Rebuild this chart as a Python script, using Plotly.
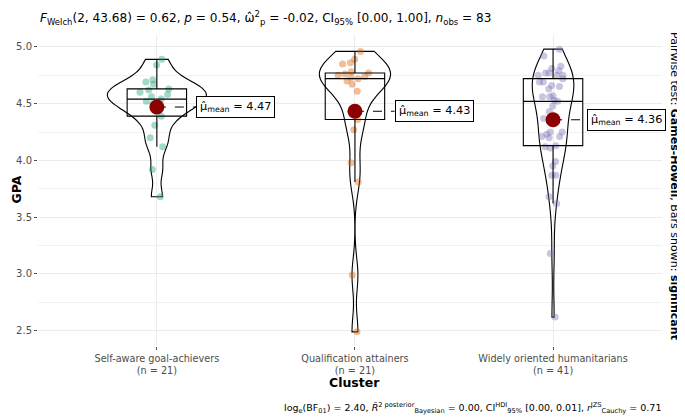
import numpy as np
import plotly.graph_objects as go

# ---- data ----
categories = ["Self-aware goal-achievers", "Qualification attainers", "Widely oriented humanitarians"]
gpa_self_aware = [3.68, 3.92, 4.12, 4.20, 4.31, 4.39, 4.43, 4.47, 4.50, 4.52, 4.54,
                  4.56, 4.58, 4.60, 4.62, 4.63, 4.67, 4.69, 4.71, 4.84, 4.89]
gpa_qualification = [2.49, 2.99, 3.81, 3.98, 4.27, 4.36, 4.40, 4.61, 4.67, 4.70, 4.72,
                     4.73, 4.74, 4.75, 4.76, 4.77, 4.78, 4.85, 4.86, 4.89, 4.96]
gpa_widely = [2.62, 3.18, 3.62, 3.68, 3.87, 3.87, 3.95, 3.99, 4.11, 4.12, 4.13,
              4.20, 4.21, 4.21, 4.23, 4.25, 4.25, 4.37, 4.43, 4.48, 4.52,
              4.53, 4.56, 4.56, 4.57, 4.63, 4.65, 4.66, 4.69, 4.69, 4.72,
              4.75, 4.75, 4.75, 4.77, 4.77, 4.79, 4.81, 4.83, 4.92, 4.98]
groups = [gpa_self_aware, gpa_qualification, gpa_widely]
point_colors = ["#1B9E77", "#D95F02", "#7570B3"]
y_ticks = [2.5, 3.0, 3.5, 4.0, 4.5, 5.0]

title_text = ("<i>F</i><sub>Welch</sub>(2, 43.68) = 0.62, <i>p</i> = 0.54, "
              "ω̂<sup>2</sup><sub>p</sub> = -0.02, CI<sub>95%</sub> [0.00, 1.00], "
              "<i>n</i><sub>obs</sub> = 83")
caption_text = ("log<sub>e</sub>(BF<sub>01</sub>) = 2.40, "
                "<i>R̂</i><sup>2 posterior</sup><sub>Bayesian</sub> = 0.00, "
                "CI<sup>HDI</sup><sub>95%</sub> [0.00, 0.01], "
                "<i>r</i><sup>JZS</sup><sub>Cauchy</sub> = 0.71")
side_text = "Pairwise test: <b>Games-Howell</b>, Bars shown: <b>significant</b>"

# ---- styling ----
FONT = "DejaVu Sans"
positions = [1, 2, 3]
label_offsets = [0.2, 0.2, 0.17]
violin_widths = [0.5, 0.36, 0.21]   # ggplot "area" scaling as seen in the reference

# page body has an 8px margin: figure is drawn 8px right/down of the window corner
W, H = 677, 410
ML, MT, MR, MB = 30, 27, 23, 72
PW, PH = W - ML - MR, H - MT - MB


def nrd0(v):
    v = np.asarray(v)
    sd = v.std(ddof=1)
    iqr = np.subtract(*np.percentile(v, [75, 25]))
    return 0.9 * min(sd, iqr / 1.34) * len(v) ** (-0.2)


fig = go.Figure()

# jittered points
for pos, vals, col in zip(positions, groups, point_colors):
    fig.add_trace(go.Box(
        x=[pos] * len(vals), y=vals, boxpoints="all", jitter=0.5, pointpos=0,
        width=0.35, marker=dict(color=col, size=7, opacity=0.4),
        line=dict(width=0, color="rgba(0,0,0,0)"), fillcolor="rgba(0,0,0,0)",
        showlegend=False, hoverinfo="skip"))

# violins
for pos, vals, w in zip(positions, groups, violin_widths):
    fig.add_trace(go.Violin(
        x=[pos] * len(vals), y=vals, bandwidth=nrd0(vals), spanmode="hard",
        scalemode="width", width=w, points=False, side="both",
        fillcolor="rgba(255,255,255,0.2)", line=dict(color="black", width=1.1),
        box_visible=False, meanline_visible=False, showlegend=False,
        hoverinfo="skip"))

# boxes (type-7 quartiles, 1.5 IQR whiskers)
for pos, vals in zip(positions, groups):
    v = np.sort(np.asarray(vals))
    q1, med, q3 = np.percentile(v, [25, 50, 75])
    iqr = q3 - q1
    lf = v[v >= q1 - 1.5 * iqr].min()
    uf = v[v <= q3 + 1.5 * iqr].max()
    fig.add_trace(go.Box(
        x=[pos], q1=[q1], median=[med], q3=[q3], lowerfence=[lf], upperfence=[uf],
        width=0.3, whiskerwidth=0, boxpoints=False,
        line=dict(color="black", width=1.1), fillcolor="rgba(0,0,0,0)",
        showlegend=False, hoverinfo="skip"))

# means, dashed connectors and labels
for pos, vals, off in zip(positions, groups, label_offsets):
    m = float(np.mean(vals))
    fig.add_trace(go.Scatter(
        x=[pos, pos + off], y=[m, m], mode="lines",
        line=dict(color="black", width=1, dash="dash"),
        showlegend=False, hoverinfo="skip"))
    fig.add_trace(go.Scatter(
        x=[pos], y=[m], mode="markers",
        marker=dict(color="#8B0000", size=15),
        showlegend=False, hoverinfo="skip"))
    fig.add_annotation(
        x=pos + off, y=m, xref="x", yref="y", xanchor="left", yanchor="middle",
        text=f"μ̂<sub>mean</sub> = {m:.2f}", showarrow=False,
        font=dict(family=FONT, size=11.3, color="black"),
        bgcolor="white", bordercolor="black", borderwidth=1, borderpad=3)

tick_text = [f"{c}<br>(n = {len(g)})" for c, g in zip(categories, groups)]

# y range with ggplot-like 5% expansion
all_vals = np.concatenate([np.asarray(g) for g in groups])
lo, hi = all_vals.min(), all_vals.max()
pad = 0.05 * (hi - lo)

fig.update_layout(
    width=W, height=H,
    margin=dict(l=ML, r=MR, t=MT, b=MB, autoexpand=False),
    paper_bgcolor="white", plot_bgcolor="white",
    boxmode="overlay", violinmode="overlay",
    font=dict(family=FONT, size=10, color="#4D4D4D"),
    xaxis=dict(
        range=[0.4, 3.55], tickmode="array", tickvals=positions, ticktext=tick_text,
        showgrid=True, gridcolor="#EBEBEB", gridwidth=1, zeroline=False,
        showline=False, ticks="outside", ticklen=3, tickcolor="#4D4D4D",
        tickfont=dict(family=FONT, size=9.7, color="#4D4D4D")),
    yaxis=dict(
        range=[lo - pad, hi + pad], tickmode="array", tickvals=y_ticks,
        ticktext=[f"{t:.1f}" for t in y_ticks],
        showgrid=True, gridcolor="#EBEBEB", gridwidth=1, zeroline=False,
        showline=False, ticks="outside", ticklen=3, tickcolor="#4D4D4D",
        tickfont=dict(family=FONT, size=10, color="#4D4D4D"),
        minor=dict(tickvals=[2.75, 3.25, 3.75, 4.25, 4.75], showgrid=True,
                   gridcolor="#F2F2F2", gridwidth=1, ticks="")),
)

# title / caption / side text / axis titles (positions in figure pixels)
fig.add_annotation(x=0, y=1.0 + (MT - 10) / PH, xref="paper", yref="paper",
                   xanchor="left", yanchor="middle", showarrow=False,
                   text=title_text, font=dict(family=FONT, size=12.1, color="black"))
fig.add_annotation(x=1.0 + 1 / PW, y=-(400 - (H - MB)) / PH, xref="paper", yref="paper",
                   xanchor="right", yanchor="middle", showarrow=False,
                   text=caption_text, font=dict(family=FONT, size=9.5, color="black"))
fig.add_annotation(x=(667 - ML) / PW, y=(H - MB - 178) / PH, xref="paper", yref="paper",
                   xanchor="center", yanchor="middle", showarrow=False, textangle=90,
                   text=side_text, font=dict(family=FONT, size=11, color="black"))
fig.add_annotation(x=2, y=-(374 - (H - MB)) / PH, xref="x", yref="paper",
                   xanchor="center", yanchor="middle", showarrow=False,
                   text="<b>Cluster</b>", font=dict(family=FONT, size=12.5, color="black"))
fig.add_annotation(x=(7.5 - ML) / PW, y=(H - MB - 182) / PH, xref="paper", yref="paper",
                   xanchor="center", yanchor="middle", showarrow=False, textangle=-90,
                   text="<b>GPA</b>", font=dict(family=FONT, size=12.5, color="black"))

fig.write_html("out.html")
